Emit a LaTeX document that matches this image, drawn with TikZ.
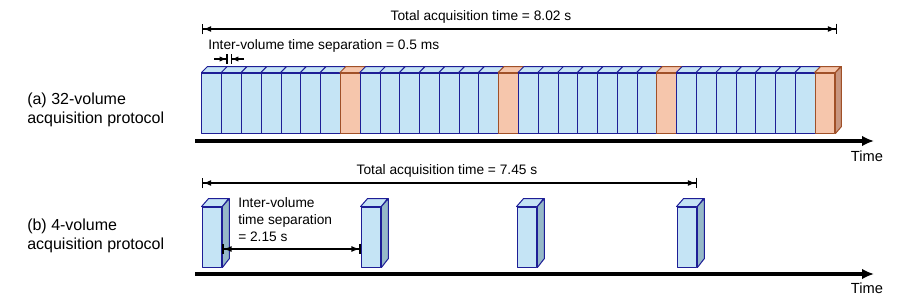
\documentclass[tikz,border=0pt]{standalone}
\usepackage{fontspec}
\setmainfont{Liberation Sans}
\usetikzlibrary{arrows.meta, positioning}
\definecolor{volfill}{RGB}{197,228,245}
\definecolor{voledge}{RGB}{30,30,150}
\definecolor{volside}{RGB}{150,185,200}
\definecolor{orgfill}{RGB}{246,198,172}
\definecolor{orgedge}{RGB}{160,80,40}
\definecolor{orgside}{RGB}{200,150,128}

\begin{document}
\begin{tikzpicture}[x=0.75pt, y=-0.75pt, line join=round,
    vol/.style={inner sep=0pt, line width=0.75pt, minimum width=14.84pt, minimum height=45pt},
    bluface/.style={draw=voledge, fill=volfill, line width=0.75pt},
    bluside/.style={draw=voledge, fill=volside, line width=0.75pt},
    orgface/.style={draw=orgedge, fill=orgfill, line width=0.75pt},
    orgside/.style={draw=orgedge, fill=orgside, line width=0.75pt},
    timeax/.style={line width=2.6pt, -{Latex[length=9pt,width=8pt]}},
    dimline/.style={line width=0.9pt, arrows={Bar[width=8pt] Latex[length=6pt,width=4.5pt]-Latex[length=6pt,width=4.5pt] Bar[width=8pt]}},
    gapline/.style={line width=0.9pt, arrows={-Latex[length=5pt,width=4pt] Bar[width=7pt]}},
    dimtxt/.style={inner sep=0pt, font=\fontsize{10.3}{12.75}\selectfont},
    protxt/.style={inner sep=0pt, anchor=west, align=left, font=\fontsize{12}{14.3}\selectfont},
    timetxt/.style={inner sep=0pt, font=\fontsize{11}{13}\selectfont}]
    \useasboundingbox (0,0) rectangle (915,300);

    % (a) 32 volumes, every eighth one in orange
    \foreach \i in {1,...,32} {
        \pgfmathtruncatemacro{\k}{mod(\i,8)}
        \ifnum\k=0 \def\face{orgface}\def\side{orgside}\else \def\face{bluface}\def\side{bluside}\fi
        \node[vol, \face] (v\i) at ({211.89+19.78*(\i-1)}, 103) {};
        \draw[\face] (v\i.north west) -- ++(6,-6) -- ++(19.78,0) -- (v\i.north east) -- cycle;
        \draw[\side] (v\i.north east) -- ++(6,-6) -- ++(0,60) -- (v\i.south east) -- cycle;
    }
    \node[protxt] (laba) at (27,110) {(a) 32-volume\\acquisition protocol};
    \coordinate (ta0) at (195,141);
    \coordinate (ta1) at (874,141);
    \draw[timeax] (ta0) -- (ta1);
    \node[timetxt] (timea) at (867,156) {Time};
    % total time, top row
    \coordinate (tota0) at (202,29);
    \coordinate (tota1) at (837,29);
    \draw[dimline] (tota0) -- (tota1);
    \node[dimtxt] (totalA) at (481,17) {Total acquisition time = 8.02 s};
    % gap between two volumes
    \node[dimtxt, anchor=west] (gapA) at (208,46) {Inter-volume time separation = 0.5 ms};
    \coordinate (ga0) at (214,59);
    \coordinate (ga1) at (227.5,59);
    \coordinate (ga2) at (244,59);
    \coordinate (ga3) at (230.5,59);
    \draw[gapline] (ga0) -- (ga1);
    \draw[gapline] (ga2) -- (ga3);

    % (b) 4 volumes
    \foreach \x [count=\j] in {212,371,527,687} {
        \node[vol, bluface] (w\j) at (\x,237) {};
        \draw[bluface] (w\j.north west) -- ++(7,-8) -- ++(20,0) -- (w\j.north east) -- cycle;
        \draw[bluside] (w\j.north east) -- ++(7,-8) -- ++(0,60) -- (w\j.south east) -- cycle;
    }
    \node[protxt] (labb) at (27,236) {(b) 4-volume\\acquisition protocol};
    \coordinate (tb0) at (195,274);
    \coordinate (tb1) at (874,274);
    \draw[timeax] (tb0) -- (tb1);
    \node[timetxt] (timeb) at (867,288) {Time};
    \coordinate (totb0) at (202,183);
    \coordinate (totb1) at (697,183);
    \draw[dimline] (totb0) -- (totb1);
    \node[dimtxt] (totalB) at (447,171) {Total acquisition time = 7.45 s};
    \draw[dimline] ([yshift=-9pt]w1.east) -- ([yshift=-9pt]w2.west);
    \node[dimtxt, anchor=west, align=left] (gapB) at (238,220) {Inter-volume\\time separation\\= 2.15 s};
\end{tikzpicture}
\end{document}
